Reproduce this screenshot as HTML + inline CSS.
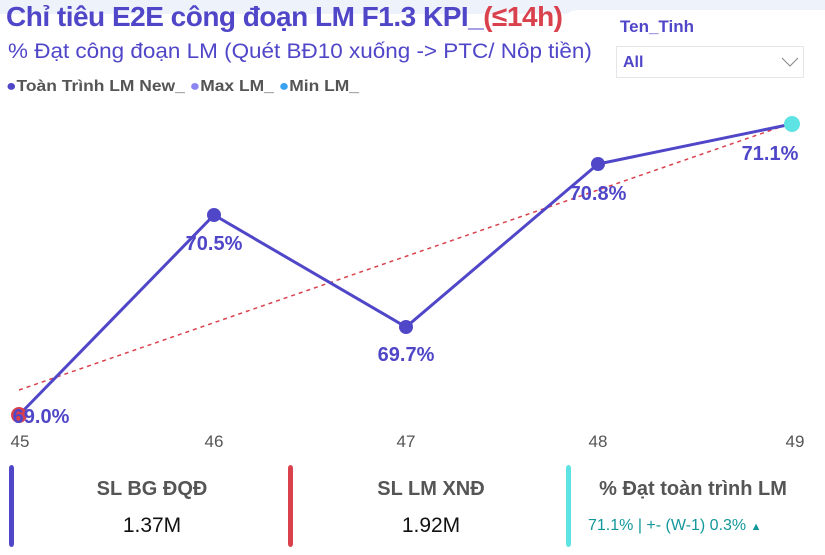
<!DOCTYPE html>
<html><head><meta charset="utf-8"><style>
body{margin:0;width:825px;height:555px;overflow:hidden;background:#fff;font-family:"Liberation Sans",sans-serif;position:relative}
.t{position:absolute;white-space:nowrap}
</style></head><body>
<div style="position:absolute;left:0;top:0;width:825px;height:14px;background:#eef2fb"></div>
<div style="position:absolute;left:560px;top:10px;width:300px;height:40px;background:#fff;border-radius:18px 0 0 0"></div>
<div class="t" style="left:6px;top:1px;font-size:28px;font-weight:bold;color:#5046c8;letter-spacing:-0.5px">Chỉ tiêu E2E công đoạn LM F1.3 KPI_<span style="color:#d9414d">(≤14h)</span></div>
<div class="t" style="left:8px;top:40px;font-size:21px;color:#5046c8;transform:scaleX(1.07);transform-origin:0 0">% Đạt công đoạn LM (Quét BĐ10 xuống -&gt; PTC/ Nôp tiền)</div>
<div class="t" style="left:6px;top:78px;font-size:16px;font-weight:bold;color:#555;transform:scaleX(1.09);transform-origin:0 0"><span style="color:#4f46c8">●</span>Toàn Trình LM New_ <span style="color:#8b86f0">●</span>Max LM_ <span style="color:#3aa0f0">●</span>Min LM_</div>
<div class="t" style="left:620px;top:17px;font-size:17px;font-weight:bold;color:#5046c8">Ten_Tinh</div>
<div style="position:absolute;left:616px;top:46px;width:188px;height:32px;border:1px solid #e6e6e6;box-sizing:border-box;background:#fff"></div>
<div class="t" style="left:623px;top:54px;font-size:16px;font-weight:bold;color:#5046c8">All</div>
<svg style="position:absolute;left:0;top:0" width="825" height="555">
<polyline points="782,58 790,66 798,58" fill="none" stroke="#888" stroke-width="1"/>
<line x1="19" y1="390" x2="792" y2="123" stroke="#d9414d" stroke-width="1.5" stroke-dasharray="4,4"/>
<polyline points="19,415 214,215 406,327 598,164 792,124" fill="none" stroke="#5046c8" stroke-width="3"/>
<circle cx="19" cy="415" r="8" fill="#d9414d"/>
<circle cx="214" cy="215" r="7" fill="#5046c8"/>
<circle cx="406" cy="327" r="7" fill="#5046c8"/>
<circle cx="598" cy="164" r="7" fill="#5046c8"/>
<circle cx="792" cy="124" r="8" fill="#5de3e3"/>
<g font-family="Liberation Sans" font-weight="bold" font-size="20" fill="#5046c8" text-anchor="middle">
<text x="41" y="423">69.0%</text>
<text x="214" y="250">70.5%</text>
<text x="406" y="361">69.7%</text>
<text x="598" y="200">70.8%</text>
<text x="770" y="160">71.1%</text>
</g>
<g font-family="Liberation Sans" font-size="17" fill="#555" text-anchor="middle">
<text x="20" y="447">45</text><text x="214" y="447">46</text><text x="406" y="447">47</text><text x="598" y="447">48</text><text x="795" y="447">49</text>
</g>
<rect x="9" y="465" width="5" height="82" rx="3" fill="#5046c8"/>
<rect x="288" y="465" width="5" height="82" rx="3" fill="#d9414d"/>
<rect x="566" y="465" width="5" height="82" rx="3" fill="#5de3e3"/>
</svg>
<div class="t" style="left:14px;width:276px;text-align:center;top:478px;font-size:20px;font-weight:bold;color:#555">SL BG ĐQĐ</div>
<div class="t" style="left:14px;width:276px;text-align:center;top:514px;font-size:21px;color:#111">1.37M</div>
<div class="t" style="left:293px;width:276px;text-align:center;top:478px;font-size:20px;font-weight:bold;color:#555">SL LM XNĐ</div>
<div class="t" style="left:293px;width:276px;text-align:center;top:514px;font-size:21px;color:#111">1.92M</div>
<div class="t" style="left:571px;width:244px;text-align:center;top:478px;font-size:20px;font-weight:bold;color:#555">% Đạt toàn trình LM</div>
<div class="t" style="left:588px;top:517px;font-size:16px;color:#12979a">71.1% | +- (W-1) 0.3% <span style="font-size:11px">▲</span></div>
</body></html>
